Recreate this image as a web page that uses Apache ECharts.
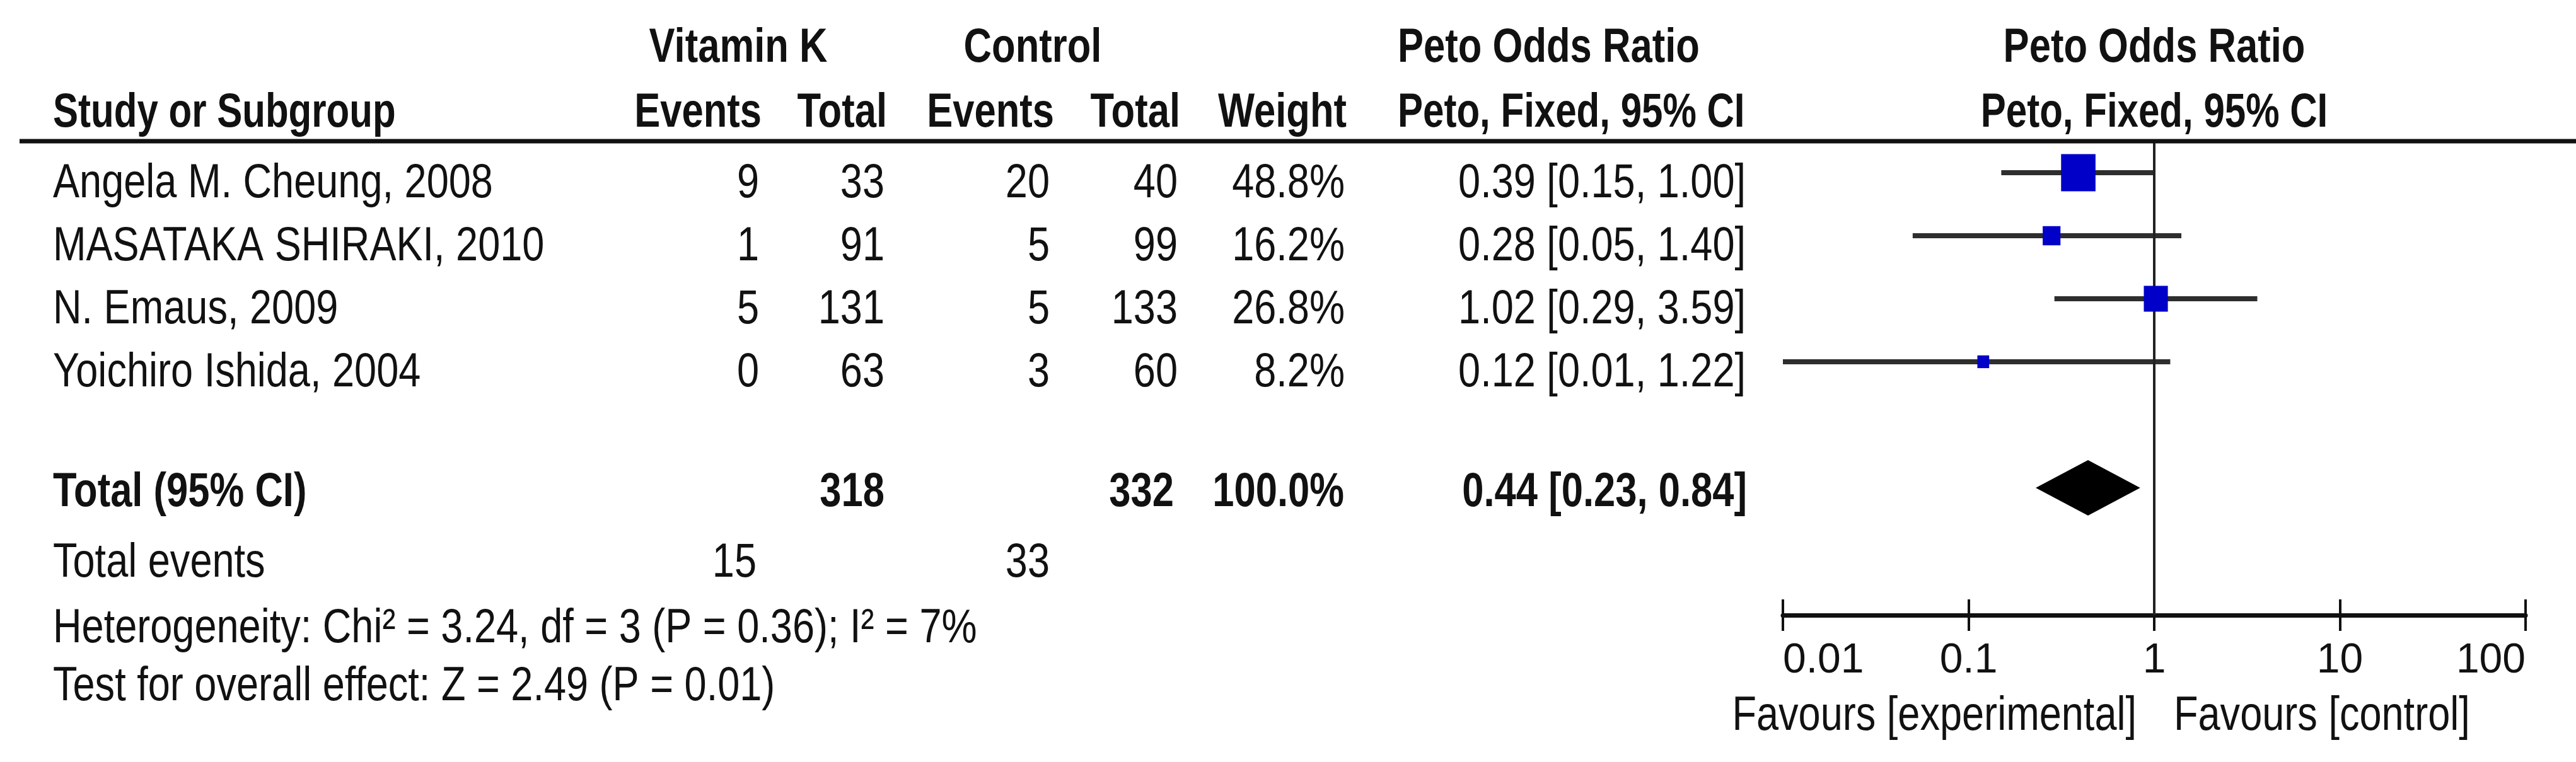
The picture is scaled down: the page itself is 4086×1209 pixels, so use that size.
<!DOCTYPE html>
<html><head><meta charset="utf-8">
<script src="https://cdn.jsdelivr.net/npm/echarts@6/dist/echarts.min.js"></script>
<style>html,body{margin:0;padding:0;background:#fff}#c{width:4086px;height:1209px}</style>
</head><body><div id="c"></div>
<script>
// ---- data ----
const studies = ['Angela M. Cheung, 2008', 'MASATAKA SHIRAKI, 2010', 'N. Emaus, 2009', 'Yoichiro Ishida, 2004'];
const vkEvents = [9, 1, 5, 0];
const vkTotal = [33, 91, 131, 63];
const ctlEvents = [20, 5, 5, 3];
const ctlTotal = [40, 99, 133, 60];
const weights = [48.8, 16.2, 26.8, 8.2];
const oddsRatio = [0.39, 0.28, 1.02, 0.12];
const ciLow = [0.15, 0.05, 0.29, 0.01];
const ciHigh = [1.00, 1.40, 3.59, 1.22];
const pooled = [0.44, 0.23, 0.84];          // estimate, low, high
const pooledTotals = [318, 332, 100.0];      // vitamin K total, control total, weight
const totalEvents = [15, 33];
const tickLabels = ['0.01', '0.1', '1', '10', '100'];
const heterogeneityText = 'Heterogeneity: Chi\u00b2 = 3.24, df = 3 (P = 0.36); I\u00b2 = 7%';
const overallText = 'Test for overall effect: Z = 2.49 (P = 0.01)';
const pooledRow = 5;

const FONT = "'Liberation Sans', Arial, Helvetica, sans-serif";
const INK = '#111';

const chart = echarts.init(document.getElementById('c'));

const option = {
  animation: false,
  backgroundColor: '#fff',
  grid: { left: 2828, right: 80, top: 224, bottom: 233, containLabel: false },
  xAxis: [
    {
      type: 'log', logBase: 10, min: 0.01, max: 100, position: 'bottom',
      axisLine: { show: true, onZero: false, lineStyle: { color: INK, width: 7 } },
      axisTick: { show: true, inside: false, length: 25, interval: 0, lineStyle: { color: INK, width: 4 } },
      minorTick: { show: false }, splitLine: { show: false },
      axisLabel: {
        show: true, margin: 40, fontSize: 66, color: INK, fontFamily: FONT, interval: 0,
        alignMinLabel: 'left', alignMaxLabel: 'right',
        formatter: v => tickLabels[Math.round(Math.log10(v)) + 2]
      }
    },
    {
      type: 'log', logBase: 10, min: 0.01, max: 100, position: 'bottom', offset: 0,
      axisLine: { show: false, onZero: false },
      axisTick: { show: true, inside: true, length: 25, interval: 0, lineStyle: { color: INK, width: 4 } },
      minorTick: { show: false }, splitLine: { show: false }, axisLabel: { show: false }
    }
  ],
  yAxis: { type: 'value', inverse: true, min: -0.5, max: 7.02, show: false, axisLine: { onZero: false } },
  series: [
    {
      type: 'custom', name: 'ci', z: 2,
      encode: { x: [0, 1], y: 2 },
      data: ciLow.map((l, i) => [l, ciHigh[i], i]),
      renderItem: (params, api) => {
        const a = api.coord([api.value(0), api.value(2)]);
        const b = api.coord([api.value(1), api.value(2)]);
        return { type: 'line', shape: { x1: a[0], y1: a[1], x2: b[0], y2: b[1] },
                 style: { stroke: '#2e2e2e', lineWidth: 8 } };
      },
      markLine: {
        silent: true, symbol: ['none', 'none'], label: { show: false },
        lineStyle: { color: '#222', width: 4, type: 'solid' },
        data: [{ xAxis: 1 }]
      }
    },
    {
      type: 'scatter', name: 'or', z: 5, symbol: 'rect',
      data: oddsRatio.map((v, i) => [v, i, weights[i]]),
      symbolSize: val => { const s = 5.3 * Math.pow(val[2], 0.6); return [s, s * 1.08]; },
      itemStyle: { color: '#0000c8', opacity: 1 }
    },
    {
      type: 'custom', name: 'pooled', z: 5,
      encode: { x: [0, 1, 2], y: 3 },
      data: [[pooled[0], pooled[1], pooled[2], pooledRow]],
      renderItem: (params, api) => {
        const r = api.value(3);
        const l = api.coord([api.value(1), r]);
        const rr = api.coord([api.value(2), r]);
        const t = api.coord([api.value(0), r - 0.44]);
        const b = api.coord([api.value(0), r + 0.44]);
        return { type: 'polygon', shape: { points: [l, t, rr, b] }, style: { fill: '#000' } };
      }
    }
  ]
};
chart.setOption(option);

// ---- table text ----
function T(text, x, y, align, bold, sx) {
  return {
    type: 'text', x: x, y: y, scaleX: sx, silent: true, z: 10,
    style: { text: String(text), textAlign: align, textVerticalAlign: 'middle',
             font: (bold ? 'bold ' : '') + '76px ' + FONT, fill: INK }
  };
}
const R = 0.83, B = 0.81;
const fmt = (e, l, h) => e.toFixed(2) + ' [' + l.toFixed(2) + ', ' + h.toFixed(2) + ']';
const xOne = chart.convertToPixel({ xAxisIndex: 0 }, 1);
const rowY = i => chart.convertToPixel({ yAxisIndex: 0 }, i);

const els = [];
els.push({ type: 'line', silent: true, z: 9, shape: { x1: 31, y1: 224, x2: 4086, y2: 224 },
           style: { stroke: INK, lineWidth: 7 } });
// header row 1
els.push(T('Vitamin K', 1171, 77, 'center', true, B));
els.push(T('Control', 1638, 77, 'center', true, B));
els.push(T('Peto Odds Ratio', 2217, 77, 'left', true, B));
els.push(T('Peto Odds Ratio', xOne, 77, 'center', true, B));
// header row 2
els.push(T('Study or Subgroup', 84, 180, 'left', true, 0.79));
els.push(T('Events', 1208, 180, 'right', true, B));
els.push(T('Total', 1407, 180, 'right', true, B));
els.push(T('Events', 1672, 180, 'right', true, B));
els.push(T('Total', 1872, 180, 'right', true, B));
els.push(T('Weight', 2136, 180, 'right', true, B));
els.push(T('Peto, Fixed, 95% CI', 2217, 180, 'left', true, 0.79));
els.push(T('Peto, Fixed, 95% CI', xOne, 180, 'center', true, 0.79));
// study rows
studies.forEach((s, i) => {
  const y = rowY(i) + 18;
  els.push(T(s, 84, y, 'left', false, R));
  els.push(T(vkEvents[i], 1204, y, 'right', false, R));
  els.push(T(vkTotal[i], 1403, y, 'right', false, R));
  els.push(T(ctlEvents[i], 1665, y, 'right', false, R));
  els.push(T(ctlTotal[i], 1868, y, 'right', false, R));
  els.push(T(weights[i].toFixed(1) + '%', 2133, y, 'right', false, R));
  els.push(T(fmt(oddsRatio[i], ciLow[i], ciHigh[i]), 2769, y, 'right', false, R));
});
// pooled row
const py = rowY(pooledRow) + 8;
els.push(T('Total (95% CI)', 84, py, 'left', true, B));
els.push(T(pooledTotals[0], 1403, py, 'right', true, B));
els.push(T(pooledTotals[1], 1862, py, 'right', true, B));
els.push(T(pooledTotals[2].toFixed(1) + '%', 2132, py, 'right', true, B));
els.push(T(fmt(pooled[0], pooled[1], pooled[2]), 2771, py, 'right', true, B));
// footer
els.push(T('Total events', 84, 894, 'left', false, R));
els.push(T(totalEvents[0], 1200, 894, 'right', false, R));
els.push(T(totalEvents[1], 1665, 894, 'right', false, R));
els.push(T(heterogeneityText, 84, 998, 'left', false, R));
els.push(T(overallText, 84, 1090, 'left', false, R));
els.push(T('Favours [experimental]', xOne - 28, 1137, 'right', false, R));
els.push(T('Favours [control]', xOne + 31, 1137, 'left', false, R));

chart.setOption({ graphic: { elements: els } });
</script>
</body></html>
